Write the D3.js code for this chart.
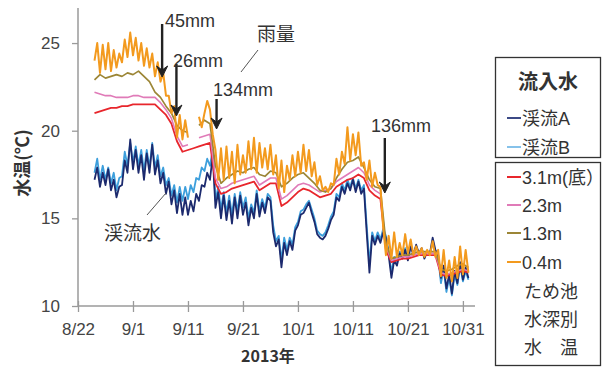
<!DOCTYPE html>
<html><head><meta charset="utf-8">
<script src="https://cdn.jsdelivr.net/npm/d3@7/dist/d3.min.js"></script>
<style>
body{margin:0;background:#fff;}
svg{display:block;font-family:"Liberation Sans","Noto Sans CJK JP",sans-serif;}
</style></head><body>
<svg id="c" width="605" height="374"></svg>
<script>
// ---- data ----
const startDay = 3;          // first sample: days after 8/22
const tickLabels = ["8/22","9/1","9/11","9/21","10/1","10/11","10/21","10/31"];
const yTicks = [10,15,20,25];

// half-day samples (d = 3, 3.5, ... 71)
const surface04 = [24.0,25.0,23.3,24.9,23.5,25.0,23.4,24.6,23.6,24.4,23.9,25.2,24.2,25.6,24.3,25.3,24.0,25.0,23.7,24.7,23.6,24.4,23.1,23.9,22.8,23.3,22.0,22.0,21.0,21.4,19.6,20.9,19.5,20.6,19.6,null,null,null,20.8,20.2,21.0,21.7,21.2,19.8,18.9,17.2,19.0,17.2,19.1,17.3,18.8,17.0,19.2,17.5,18.6,17.6,19.4,17.8,19.6,17.6,19.3,17.9,19.0,17.8,19.2,17.5,18.6,16.7,18.3,16.5,18.0,17.2,18.6,17.4,18.8,17.6,19.2,17.7,18.9,17.4,18.2,16.9,17.4,16.6,16.8,16.5,17.0,16.9,18.4,17.5,18.8,18.1,20.2,18.3,19.8,18.6,19.9,18.0,18.2,17.2,18.3,16.8,17.6,16.9,16.8,14.5,12.9,14.0,12.7,14.2,12.8,13.6,12.9,14.1,13.0,13.8,12.9,13.4,12.9,13.3,12.8,13.2,12.9,13.7,12.8,13.2,11.7,13.2,11.6,12.6,11.4,12.8,11.6,13.4,11.8,13.2,11.9];
const streamA = [17.2,17.9,16.8,17.6,16.9,17.8,16.6,17.2,16.2,16.8,16.9,18.3,17.6,19.5,17.8,18.9,17.6,18.6,17.2,18.7,17.6,19.2,17.5,18.3,17.0,17.6,16.4,17.1,15.8,16.6,15.3,16.4,15.2,16.2,15.2,16.0,15.4,16.4,16.0,16.9,16.8,17.6,17.2,18.6,15.6,16.5,15.0,16.3,14.9,16.0,14.7,16.2,15.0,16.3,15.2,15.9,14.6,15.6,15.0,16.4,15.1,15.9,15.3,16.2,16.0,14.2,13.4,13.8,12.2,13.6,12.9,13.7,13.2,14.3,14.6,15.2,15.3,15.6,15.9,15.3,14.8,14.1,13.9,13.8,14.0,14.4,14.9,15.2,16.2,16.0,16.8,16.4,17.0,16.6,17.2,16.5,17.1,16.4,16.7,14.2,11.9,14.0,13.5,14.0,13.6,14.2,13.9,12.9,11.6,12.6,12.3,13.0,12.7,13.2,12.6,13.4,12.9,13.5,13.0,13.3,12.7,13.1,13.0,13.9,13.2,12.9,11.6,12.3,11.0,11.8,10.7,12.0,11.3,12.5,11.5,12.2,11.6];
const streamB = [17.6,18.4,17.2,18.0,17.2,17.9,17.0,17.6,16.6,17.3,17.4,18.8,18.0,19.3,18.2,19.1,18.0,18.9,17.7,18.9,17.9,19.3,17.9,18.6,17.4,17.9,16.9,17.3,16.3,16.9,15.9,16.8,16.0,16.8,16.1,16.9,16.5,17.3,17.2,17.9,17.7,18.4,18.0,18.9,16.0,16.8,15.5,16.5,15.3,16.3,15.2,16.4,15.4,16.5,15.6,16.2,15.0,15.8,15.3,16.6,15.4,16.1,15.6,16.4,16.2,14.6,13.7,14.0,12.6,13.9,13.2,13.9,13.5,14.5,14.8,15.4,15.5,15.8,16.0,15.5,15.0,14.3,14.1,14.0,14.2,14.6,15.1,15.4,16.4,16.2,17.0,16.6,17.2,16.8,17.3,16.7,17.2,16.6,16.9,14.6,12.4,14.2,13.7,14.2,13.8,14.4,14.0,13.1,11.9,12.8,12.5,13.1,12.9,13.3,12.8,13.4,13.0,13.4,13.0,13.2,12.8,13.1,13.0,13.6,13.1,12.8,11.3,12.1,10.8,11.6,10.6,11.8,11.2,12.3,11.4,12.0,11.5];

// daily samples (d = 3, 4, ... 71)
const bottom31 = [21.0,21.1,21.2,21.3,21.3,21.4,21.4,21.5,21.5,21.5,21.5,21.5,21.2,20.9,20.4,19.4,18.8,18.9,19.0,19.1,19.2,19.3,17.0,16.4,16.5,16.7,16.8,16.9,17.0,17.1,16.6,16.8,17.0,17.0,15.7,15.9,16.2,16.5,16.7,16.6,16.4,16.2,16.3,16.4,16.8,17.0,17.2,17.3,17.5,17.3,16.6,16.3,16.1,13.2,12.5,12.6,12.7,12.7,12.8,12.9,12.9,12.9,12.9,11.8,11.7,11.8,11.9,12.0,11.9];
const mid23 = [22.2,22.1,22.0,22.0,21.9,21.9,21.9,22.0,22.0,21.9,21.9,21.9,21.6,21.2,20.7,19.7,19.1,19.2,null,19.6,19.7,19.8,17.3,16.7,16.8,17.0,17.1,17.2,17.3,17.4,16.9,17.1,17.3,17.3,16.1,16.3,16.6,16.9,17.0,16.9,16.7,16.5,16.6,16.7,17.1,17.3,17.5,17.7,17.9,17.6,16.9,16.6,16.4,13.4,12.6,12.7,12.8,12.8,12.9,13.0,13.0,13.0,13.0,11.9,11.8,11.9,12.0,12.1,12.0];
const mid13 = [22.9,23.2,23.0,23.1,23.2,23.1,23.3,23.2,23.4,23.1,22.8,22.2,21.9,21.4,21.0,20.3,20.0,19.9,null,20.3,20.6,20.4,18.0,17.0,17.3,17.5,17.7,17.6,17.8,17.9,17.5,17.4,17.7,17.6,16.8,17.0,17.3,17.5,17.6,17.3,17.0,16.6,16.5,16.7,17.3,17.8,18.2,18.3,18.5,17.9,17.2,16.8,16.7,13.6,12.7,12.8,12.9,12.9,13.0,13.1,13.1,13.1,13.1,12.1,12.0,12.1,12.3,12.4,12.2];

const rainLabels = ["45mm","26mm","134mm","136mm"];
const rainDays = [15.3, 17.9, 25.2, 55.8];

// ---- drawing ----
const svg = d3.select("#c");
const t0 = new Date(2013,7,22);
const dayToDate = d => new Date(t0.getTime() + d*86400000);
const x = d3.scaleTime().domain([t0, dayToDate(72.2)]).range([78, 475]);
const y = d3.scaleLinear().domain([10, 27]).range([306, 8]);

const tickDates = tickLabels.map((s,i)=>dayToDate(i*10));
const xAxis = d3.axisBottom(x).tickValues(tickDates).tickFormat((d,i)=>tickLabels[i]).tickSize(6).tickPadding(11);
const gx = svg.append("g").attr("transform","translate(0,306)").call(xAxis);
gx.select(".domain").attr("stroke","#9a9a9a").attr("stroke-width",1.5).attr("d","M78,0H475");
gx.selectAll(".tick line").attr("stroke","#9a9a9a").attr("stroke-width",1.3).attr("y1",-5).attr("y2",6);
gx.selectAll(".tick text").attr("fill","#444").attr("font-size",17).attr("font-family","Liberation Sans, sans-serif");

const yAxis = d3.axisLeft(y).tickValues(yTicks).tickSize(6).tickPadding(12);
const gy = svg.append("g").attr("transform","translate(78,0)").call(yAxis);
gy.select(".domain").attr("stroke","#9a9a9a").attr("stroke-width",1.5).attr("d","M0,8V306");
gy.selectAll(".tick line").attr("stroke","#9a9a9a").attr("stroke-width",1.3);
gy.selectAll(".tick text").attr("fill","#444").attr("font-size",17).attr("font-family","Liberation Sans, sans-serif");

const half = arr => arr.map((v,i)=>({d:startDay+i*0.5, v}));
const daily = arr => arr.map((v,i)=>({d:startDay+i, v}));
const line = d3.line().defined(p=>p.v!==null).x(p=>x(dayToDate(p.d))).y(p=>y(p.v));

const series = [
  {data:half(streamB), color:"#3d9fdc", w:1.8},
  {data:half(streamA), color:"#1c2a6e", w:1.8},
  {data:daily(bottom31), color:"#e8262c", w:1.8},
  {data:daily(mid23), color:"#e07bb8", w:1.6},
  {data:daily(mid13), color:"#9c8636", w:1.7},
  {data:half(surface04), color:"#f39a1e", w:2.0},
];
series.forEach(s=>{
  svg.append("path").datum(s.data).attr("d",line).attr("fill","none")
    .attr("stroke",s.color).attr("stroke-width",s.w).attr("stroke-linejoin","round");
});

// rain arrows
const arrowSpec = [
  {top:24, tip:77, tx:165, ty:27},
  {top:64, tip:116, tx:173, ty:67},
  {top:99, tip:129, tx:213, ty:96},
  {top:138, tip:193, tx:371, ty:132},
];
arrowSpec.forEach((a,i)=>{
  const ax = x(dayToDate(rainDays[i]));
  svg.append("line").attr("x1",ax).attr("x2",ax).attr("y1",a.top).attr("y2",a.tip-6)
    .attr("stroke","#222").attr("stroke-width",2.4);
  svg.append("path").attr("d",`M${ax-5.5},${a.tip-11} L${ax},${a.tip} L${ax+5.5},${a.tip-11} L${ax},${a.tip-7} Z`)
    .attr("fill","#222").attr("stroke","#222").attr("stroke-width",1).attr("stroke-linejoin","miter");
  svg.append("text").attr("x",a.tx).attr("y",a.ty).text(rainLabels[i])
    .attr("font-size",18).attr("fill","#333");
});

// annotations
svg.append("text").attr("x",257).attr("y",41).text("雨量").attr("font-size",19).attr("fill","#333")
  .attr("font-family","Noto Sans CJK JP");
svg.append("line").attr("x1",258).attr("y1",50).attr("x2",241).attr("y2",72).attr("stroke","#555").attr("stroke-width",1);
svg.append("text").attr("x",104).attr("y",240).text("渓流水").attr("font-size",19).attr("fill","#333")
  .attr("font-family","Noto Sans CJK JP");
svg.append("line").attr("x1",147).attr("y1",215).attr("x2",166).attr("y2",193).attr("stroke","#555").attr("stroke-width",1);

// axis titles
svg.append("text").attr("transform","translate(29,163) rotate(-90)").attr("text-anchor","middle")
  .text("水温(℃)").attr("font-size",18).attr("font-weight","bold").attr("fill","#333")
  .attr("font-family","Noto Sans CJK JP");
svg.append("text").attr("x",268).attr("y",362).attr("text-anchor","middle")
  .text("2013年").attr("font-size",16).attr("font-weight","bold").attr("fill","#333")
  .attr("font-family","Noto Sans CJK JP");

// legend
svg.append("rect").attr("x",495.5).attr("y",57.5).attr("width",105).attr("height",100)
  .attr("fill","#fff").attr("stroke","#333").attr("stroke-width",1.3);
svg.append("rect").attr("x",495.5).attr("y",162.5).attr("width",105).attr("height",203)
  .attr("fill","#fff").attr("stroke","#333").attr("stroke-width",1.3);
svg.append("text").attr("x",548).attr("y",89).attr("text-anchor","middle").text("流入水")
  .attr("font-size",20).attr("font-weight","bold").attr("fill","#333").attr("font-family","Noto Sans CJK JP");
const legendNames = ["渓流A","渓流B","3.1m(底）","2.3m","1.3m","0.4m"];
const legendColors = ["#3c4a86","#86c2ea","#e8262c","#e07bb8","#9c8636","#f39a1e"];
const legendY = [118,147,177,205,233,262];
legendNames.forEach((n,i)=>{
  svg.append("line").attr("x1",507).attr("x2",521).attr("y1",legendY[i]).attr("y2",legendY[i])
    .attr("stroke",legendColors[i]).attr("stroke-width",2);
  svg.append("text").attr("x",522).attr("y",legendY[i]+7).text(n).attr("font-size",18)
    .attr("fill","#333").attr("font-family","Liberation Sans, Noto Sans CJK JP");
});
["ため池","水深別","水　温"].forEach((s,i)=>{
  svg.append("text").attr("x",524).attr("y",298+i*28).text(s).attr("font-size",18)
    .attr("fill","#333").attr("font-family","Noto Sans CJK JP");
});
</script>
</body></html>
